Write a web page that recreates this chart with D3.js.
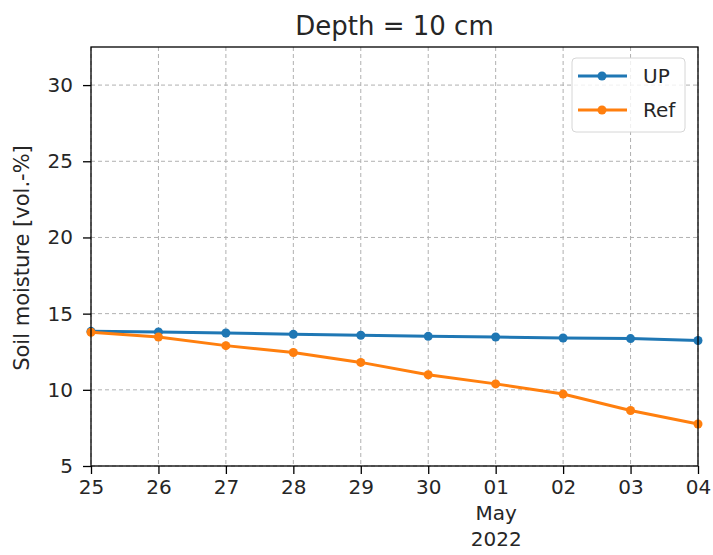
<!DOCTYPE html>
<html>
<head>
<script src="https://cdn.jsdelivr.net/npm/d3@7/dist/d3.min.js"></script>
<style>
  body { margin: 0; background: white; }
  text { font-family: "DejaVu Sans", sans-serif; fill: #262626; }
  .grid line { stroke: #b0b0b0; stroke-dasharray: 4,3; stroke-width: 1; }
  .axis path, .axis line { stroke: black; stroke-width: 1.3; }
</style>
</head>
<body>
<svg id="chart" width="713" height="555"></svg>
<script>
var dates = ["2022-04-25","2022-04-26","2022-04-27","2022-04-28","2022-04-29",
             "2022-04-30","2022-05-01","2022-05-02","2022-05-03","2022-05-04"];
var upValues  = [13.84, 13.80, 13.73, 13.64, 13.58, 13.51, 13.47, 13.40, 13.36, 13.24];
var refValues = [13.78, 13.47, 12.90, 12.45, 11.80, 10.99, 10.39, 9.72, 8.64, 7.76];
var yTicks = [5, 10, 15, 20, 25, 30];
var seriesNames = ["UP", "Ref"];
var seriesColors = ["#1f77b4", "#ff7f0e"];

var parse = d3.timeParse("%Y-%m-%d");
var days = dates.map(parse);

var mLeft = 91, mRight = 698, mTop = 47, mBottom = 466;
var svg = d3.select("#chart");

var x = d3.scaleTime().domain([days[0], days[days.length - 1]]).range([mLeft, mRight]);
var y = d3.scaleLinear().domain([5, 32.5]).range([mBottom, mTop]);

// grid
var grid = svg.append("g").attr("class", "grid");
grid.selectAll(".vx").data(days).enter().append("line")
  .attr("x1", function(d) { return x(d); }).attr("x2", function(d) { return x(d); })
  .attr("y1", mTop).attr("y2", mBottom);
grid.selectAll(".hy").data(yTicks).enter().append("line")
  .attr("y1", function(d) { return y(d); }).attr("y2", function(d) { return y(d); })
  .attr("x1", mLeft).attr("x2", mRight);

// series
var series = [upValues, refValues];
var line = d3.line().x(function(d, i) { return x(days[i]); }).y(function(d) { return y(d); });
series.forEach(function(vals, s) {
  svg.append("path").datum(vals)
    .attr("d", line).attr("fill", "none")
    .attr("stroke", seriesColors[s]).attr("stroke-width", 3);
  svg.selectAll(".pt" + s).data(vals).enter().append("circle")
    .attr("cx", function(d, i) { return x(days[i]); })
    .attr("cy", function(d) { return y(d); })
    .attr("r", 4.5).attr("fill", seriesColors[s]);
});

// frame
svg.append("rect").attr("x", mLeft).attr("y", mTop)
  .attr("width", mRight - mLeft).attr("height", mBottom - mTop)
  .attr("fill", "none").attr("stroke", "black").attr("stroke-width", 1.3);

// y axis
var yAxis = svg.append("g").attr("class", "axis")
  .attr("transform", "translate(" + mLeft + ",0)")
  .call(d3.axisLeft(y).tickValues(yTicks).tickSize(8).tickPadding(10));
yAxis.select(".domain").remove();
yAxis.selectAll("text").style("font-size", "20px").attr("fill", "#262626");

// x axis
var fmtDay = d3.timeFormat("%d");
var xAxis = svg.append("g").attr("class", "axis")
  .attr("transform", "translate(0," + mBottom + ")")
  .call(d3.axisBottom(x).tickValues(days).tickSize(8).tickPadding(6).tickFormat(fmtDay));
xAxis.select(".domain").remove();
xAxis.selectAll("text").style("font-size", "20px").attr("fill", "#262626");
xAxis.selectAll(".tick").filter(function(d) { return d.getDate() === 1; })
  .select("text")
  .each(function(d) {
    var t = d3.select(this);
    t.append("tspan").attr("x", 0).attr("dy", "1.3em").text(d3.timeFormat("%b")(d));
    t.append("tspan").attr("x", 0).attr("dy", "1.3em").text(d3.timeFormat("%Y")(d));
  });

// title
svg.append("text").attr("x", (mLeft + mRight) / 2).attr("y", 35)
  .attr("text-anchor", "middle").style("font-size", "26px").text("Depth = 10 cm");

// y label
svg.append("text")
  .attr("transform", "translate(29,258) rotate(-90)")
  .attr("text-anchor", "middle").style("font-size", "21px")
  .text("Soil moisture [vol.-%]");

// legend
var lg = svg.append("g");
lg.append("rect").attr("x", 572).attr("y", 58).attr("width", 113).attr("height", 74)
  .attr("rx", 4).attr("fill", "white").attr("fill-opacity", 0.8)
  .attr("stroke", "#d6d6d6");
seriesNames.forEach(function(name, s) {
  var ly = 76 + s * 34;
  lg.append("line").attr("x1", 578).attr("x2", 627).attr("y1", ly).attr("y2", ly)
    .attr("stroke", seriesColors[s]).attr("stroke-width", 3);
  lg.append("circle").attr("cx", 602).attr("cy", ly).attr("r", 4.5).attr("fill", seriesColors[s]);
  lg.append("text").attr("x", 643).attr("y", ly + 7).style("font-size", "20px").text(name);
});
</script>
</body>
</html>
